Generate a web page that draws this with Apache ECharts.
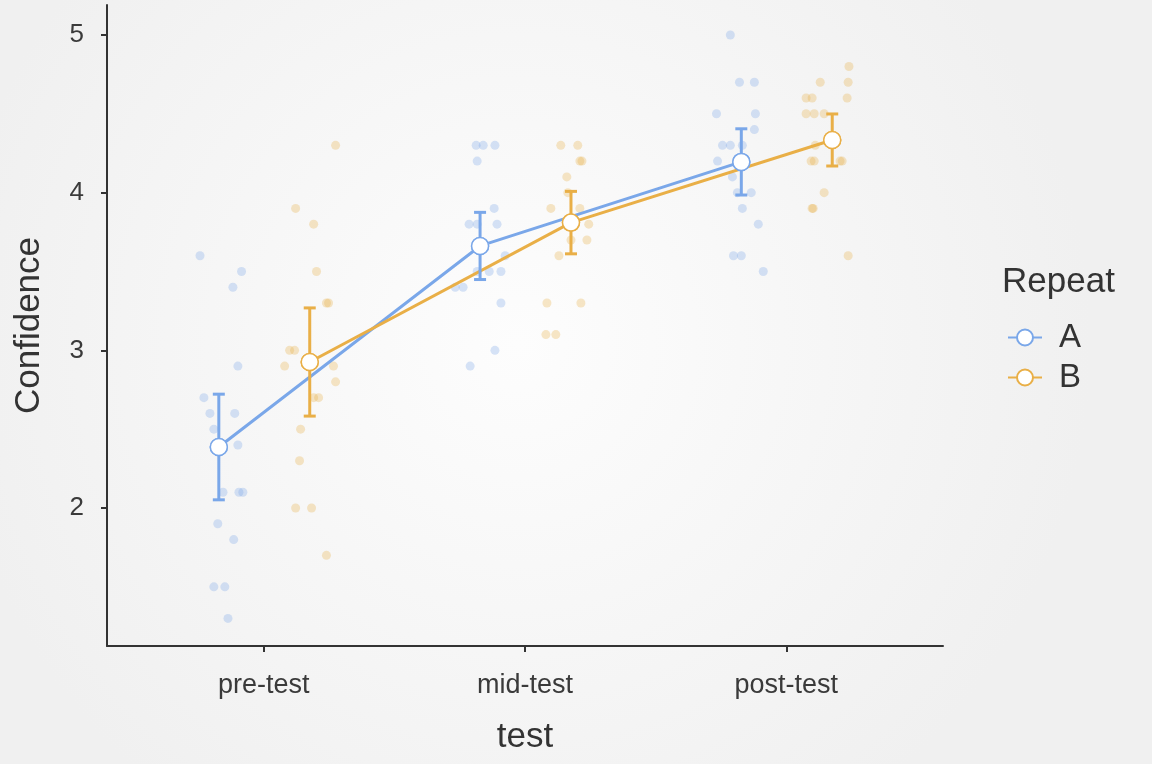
<!DOCTYPE html>
<html>
<head>
<meta charset="utf-8">
<script src="https://cdn.jsdelivr.net/npm/echarts@6/dist/echarts.min.js"></script>
<style>html,body{margin:0;padding:0;}#chart{width:1152px;height:764px;}</style>
</head>
<body>
<div id="chart"></div>
<script>
const categories = ['pre-test', 'mid-test', 'post-test'];
const groupNames = ['A', 'B'];
const yTicks = [2, 3, 4, 5];
const meansA = [2.387, 3.662, 4.195];
const meansB = [2.926, 3.81, 4.334];
const errA = [0.335, 0.213, 0.21];
const errB = [0.343, 0.198, 0.165];
const dodgeA = -0.172;
const dodgeB = 0.176;
// jittered raw observations (x in category units, y values)
const rawXA = [0.756,0.915,0.882,0.901,0.771,0.794,0.889,0.809,0.901,0.844,0.905,0.920,0.824,0.885,0.809,0.851,0.863,
  1.813,1.840,1.885,1.817,1.882,1.786,1.817,1.893,1.924,1.817,1.863,1.908,1.733,1.763,1.908,1.885,1.790,
  2.786,2.821,2.878,2.733,2.882,2.878,2.756,2.786,2.832,2.737,2.794,2.813,2.866,2.832,2.893,2.798,2.828,2.912];
const rawYA = [3.6,3.5,3.4,2.9,2.7,2.6,2.6,2.5,2.4,2.1,2.1,2.1,1.9,1.8,1.5,1.5,1.3,
  4.3,4.3,4.3,4.2,3.9,3.8,3.8,3.8,3.6,3.5,3.5,3.5,3.4,3.4,3.3,3.0,2.9,
  5.0,4.7,4.7,4.5,4.5,4.4,4.3,4.3,4.3,4.2,4.1,4.0,4.0,3.9,3.8,3.6,3.6,3.5];
const rawXB = [1.275,1.122,1.191,1.202,1.240,1.248,1.099,1.118,1.080,1.267,1.275,1.191,1.210,1.141,1.137,1.122,1.183,1.240,
  2.137,2.202,2.210,2.218,2.160,2.164,2.099,2.210,2.244,2.176,2.237,2.130,2.084,2.214,2.080,2.118,
  3.240,3.130,3.237,3.076,3.099,3.233,3.076,3.107,3.145,3.111,3.095,3.107,3.206,3.214,3.145,3.099,3.103,3.237];
const rawYB = [4.3,3.9,3.8,3.5,3.3,3.3,3.0,3.0,2.9,2.9,2.8,2.7,2.7,2.5,2.3,2.0,2.0,1.7,
  4.3,4.3,4.2,4.2,4.1,4.0,3.9,3.9,3.8,3.7,3.7,3.6,3.3,3.3,3.1,3.1,
  4.8,4.7,4.7,4.6,4.6,4.6,4.5,4.5,4.5,4.3,4.2,4.2,4.2,4.2,4.0,3.9,3.9,3.6];

const colA = '#7AA7E9';
const colB = '#E9AF47';
const font = '"Liberation Sans", Arial, Helvetica, sans-serif';

const chart = echarts.init(document.getElementById('chart'), null, {renderer: 'canvas'});

function pts(xs, ys) { return xs.map((x, i) => [x, ys[i]]); }
function meanPts(means, dodge) { return means.map((m, i) => [i + 1 + dodge, m]); }
function errPts(means, errs, dodge) { return means.map((m, i) => [i + 1 + dodge, m - errs[i], m + errs[i]]); }

function errorSeries(name, color, data) {
  return {
    type: 'custom', name: name, z: 3, silent: true,
    renderItem: function (params, api) {
      const x = api.value(0);
      const lo = api.coord([x, api.value(1)]);
      const hi = api.coord([x, api.value(2)]);
      const hw = 6;
      const style = {stroke: color, lineWidth: 3, fill: null};
      return {type: 'group', children: [
        {type: 'line', shape: {x1: lo[0], y1: lo[1], x2: hi[0], y2: hi[1]}, style: style},
        {type: 'line', shape: {x1: lo[0] - hw, y1: lo[1], x2: lo[0] + hw, y2: lo[1]}, style: style},
        {type: 'line', shape: {x1: hi[0] - hw, y1: hi[1], x2: hi[0] + hw, y2: hi[1]}, style: style}
      ]};
    },
    encode: {x: 0, y: [1, 2]},
    data: data
  };
}

const option = {
  backgroundColor: {type: 'radial', x: 0.45, y: 0.45, r: 0.75,
    colorStops: [{offset: 0, color: '#fdfdfd'}, {offset: 1, color: '#f0f0f0'}]},
  animation: false,
  textStyle: {fontFamily: font},
  title: {text: 'Repeat', left: 997, top: 260,
    textStyle: {fontFamily: font, fontSize: 35, fontWeight: 'normal', color: '#333'}},
  legend: {
    data: groupNames, orient: 'vertical', left: 1002, top: 316,
    itemWidth: 34, itemHeight: 20, itemGap: 7,
    textStyle: {fontFamily: font, fontSize: 33, color: '#333', padding: [0, 0, 0, 12]}
  },
  grid: {left: 107, right: 209, top: 5, bottom: 118, containLabel: false},
  xAxis: {
    type: 'value', min: 0.4, max: 3.6,
    name: 'test', nameLocation: 'middle', nameGap: 74,
    nameTextStyle: {fontFamily: font, fontSize: 35, color: '#333'},
    axisLine: {show: true, lineStyle: {color: '#333', width: 2}},
    axisTick: {show: true, length: 6, customValues: [1, 2, 3], lineStyle: {color: '#333', width: 2}},
    axisLabel: {customValues: [1, 2, 3], margin: 26, fontSize: 27, color: '#3a3a3a', fontFamily: font,
      formatter: function (v) { return categories[Math.round(v) - 1] || ''; }},
    splitLine: {show: false}
  },
  yAxis: {
    type: 'value', min: 1.125, max: 5.19,
    name: 'Confidence', nameLocation: 'middle', nameGap: 60, nameRotate: 90,
    nameTextStyle: {fontFamily: font, fontSize: 35, color: '#333'},
    axisLine: {show: true, lineStyle: {color: '#333', width: 2}},
    axisTick: {show: true, length: 6, customValues: yTicks, lineStyle: {color: '#333', width: 2}},
    axisLabel: {customValues: yTicks, margin: 23, fontSize: 26, color: '#3a3a3a', fontFamily: font},
    splitLine: {show: false}
  },
  series: [
    {type: 'scatter', name: 'A-raw', z: 1, symbolSize: 9, silent: true,
      itemStyle: {color: colA, opacity: 0.3}, data: pts(rawXA, rawYA)},
    {type: 'scatter', name: 'B-raw', z: 1, symbolSize: 9, silent: true,
      itemStyle: {color: colB, opacity: 0.3}, data: pts(rawXB, rawYB)},
    {type: 'line', name: 'A', z: 2, symbol: 'circle', symbolSize: 17, showSymbol: true,
      lineStyle: {color: colA, width: 3}, itemStyle: {color: '#fff', borderColor: colA, borderWidth: 1.5},
      data: meanPts(meansA, dodgeA)},
    {type: 'line', name: 'B', z: 2, symbol: 'circle', symbolSize: 17, showSymbol: true,
      lineStyle: {color: colB, width: 3}, itemStyle: {color: '#fff', borderColor: colB, borderWidth: 1.5},
      data: meanPts(meansB, dodgeB)},
    errorSeries('A-err', colA, errPts(meansA, errA, dodgeA)),
    errorSeries('B-err', colB, errPts(meansB, errB, dodgeB)),
    {type: 'scatter', name: 'A-mean', z: 5, symbolSize: 17, silent: true,
      itemStyle: {color: '#fff', borderColor: colA, borderWidth: 1.5, opacity: 1}, data: meanPts(meansA, dodgeA)},
    {type: 'scatter', name: 'B-mean', z: 5, symbolSize: 17, silent: true,
      itemStyle: {color: '#fff', borderColor: colB, borderWidth: 1.5, opacity: 1}, data: meanPts(meansB, dodgeB)}
  ]
};
chart.setOption(option);
</script>
</body>
</html>
